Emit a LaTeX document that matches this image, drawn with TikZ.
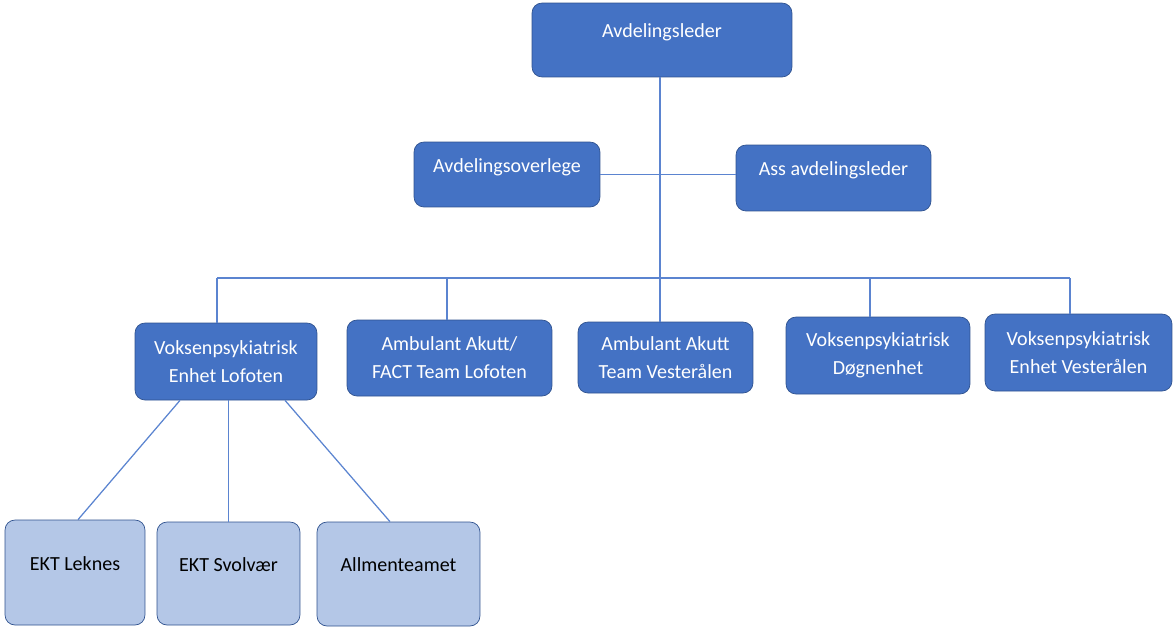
\documentclass[tikz,border=0pt]{standalone}
\usepackage{fontspec}
\setmainfont{Carlito}
\usepackage{tikz}
\usetikzlibrary{positioning}
\definecolor{unitfill}{HTML}{4472C4}
\definecolor{unitedge}{HTML}{2F528F}
\definecolor{subfill}{HTML}{B4C7E7}
\definecolor{linkblue}{HTML}{5B84D0}
\tikzstyle{unit} = [draw=unitedge, fill=unitfill, text=white, rounded corners=2mm, line width=0.4pt, align=center, font=\fontsize{11.4}{15.9}\selectfont]
\tikzstyle{subunit} = [unit, fill=subfill, text=black]
\tikzstyle{raised} = [text height=7.5pt, text depth=10pt]
\tikzstyle{link} = [-, line width=0.25mm, draw=linkblue]

\begin{document}
\begin{tikzpicture}[x=0.02cm,y=-0.02cm]
                        \useasboundingbox (0,0) rectangle (1173,626);
                        \node[unit,raised,minimum width=5.2cm,minimum height=1.48cm](lead) at (662,40) {Avdelingsleder};
                        \node[unit,raised,minimum width=3.72cm,minimum height=1.3cm](overl) at (507,174.5) {Avdelingsoverlege};
                        \node[unit,raised,minimum width=3.9cm,minimum height=1.32cm](ass) at (833.5,178) {Ass avdelingsleder};

                        \node[unit,minimum width=3.64cm,minimum height=1.54cm](vlof) at (226,361.5) {Voksenpsykiatrisk\\Enhet Lofoten};
                        \node[unit,minimum width=4.1cm,minimum height=1.52cm](fact) at (449.5,358) {Ambulant Akutt/\\FACT Team Lofoten};
                        \node[unit,minimum width=3.5cm,minimum height=1.42cm](ambv) at (665.5,357.5) {Ambulant Akutt\\Team Vester\aa len};
                        \node[unit,minimum width=3.68cm,minimum height=1.54cm](dogn) at (878,355.5) {Voksenpsykiatrisk\\D\o gnenhet};
                        \node[unit,minimum width=3.74cm,minimum height=1.54cm](vves) at (1078.5,352.5) {Voksenpsykiatrisk\\Enhet Vester\aa len};

                        \node[subunit,raised,minimum width=2.8cm,minimum height=2.1cm](ekl) at (75,572.5) {EKT Leknes};
                        \node[subunit,raised,minimum width=2.86cm,minimum height=2.06cm](eks) at (228.5,573.5) {EKT Svolv\ae r};
                        \node[subunit,raised,minimum width=3.26cm,minimum height=2.08cm](allm) at (398.5,574) {Allmenteamet};

                        \coordinate (busA) at (217,278);
                        \coordinate (busB) at (447,278);
                        \coordinate (busC) at (660,278);
                        \coordinate (busD) at (870,278);
                        \coordinate (busE) at (1070,278);

                        \draw[link](lead.south -| busC) -- (busC);
                        \draw[link](overl.east) -- (overl.east -| ass.west);
                        \draw[link](busA) -- (busE);
                        \draw[link](busA) -- (vlof.north -| busA);
                        \draw[link](busB) -- (fact.north -| busB);
                        \draw[link](busC) -- (ambv.north -| busC);
                        \draw[link](busD) -- (dogn.north -| busD);
                        \draw[link](busE) -- (vves.north -| busE);

                        \draw[link]([xshift=-0.92cm]vlof.south) -- ([xshift=0.06cm]ekl.north);
                        \draw[link](eks.north |- vlof.south) -- (eks.north);
                        \draw[link]([xshift=1.18cm]vlof.south) -- ([xshift=-0.17cm]allm.north);
                    \end{tikzpicture}
\end{document}
